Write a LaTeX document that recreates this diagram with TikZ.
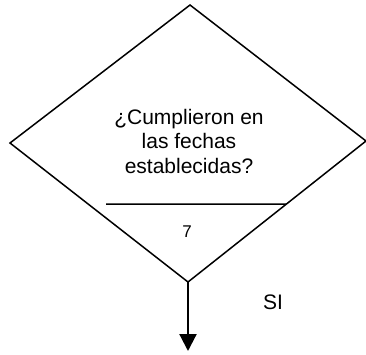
\documentclass[tikz,border=0pt]{standalone}
\usepackage{fontspec}
\setmainfont{Liberation Sans}
\usetikzlibrary{arrows.meta,calc}
\begin{document}
\begin{tikzpicture}[x=1pt,y=-1pt,
  shapeline/.style={draw=black,line width=1.5pt,line join=miter},
  flowarrow/.style={draw=black,line width=2.2pt,-{Triangle[length=17pt,width=17pt]}},
  bigtext/.style={font=\fontsize{21}{24.5}\selectfont,align=center,inner sep=0pt},
  smalltext/.style={font=\fontsize{17}{20}\selectfont,inner sep=0pt}]
\useasboundingbox (0,0) rectangle (366,354);
\coordinate (top) at (190,5);
\coordinate (lft) at (10,143);
\coordinate (rgt) at (366,141);
\coordinate (bot) at (188,282);
\coordinate (hl) at (106,204);
\coordinate (hr) at ($(rgt)!0.447!(bot)$);
\coordinate (end) at (188,351);
\draw[shapeline] (top) -- (rgt) -- (bot) -- (lft) -- cycle;
\draw[shapeline] (hl) -- (hr);
\node[bigtext] (q) at (189,141) {¿Cumplieron en\\las fechas\\establecidas?};
\node[smalltext] (num) at (187,232) {7};
\node[bigtext] (si) at (273,302) {SI};
\draw[flowarrow] (bot) -- (end);
\end{tikzpicture}
\end{document}
